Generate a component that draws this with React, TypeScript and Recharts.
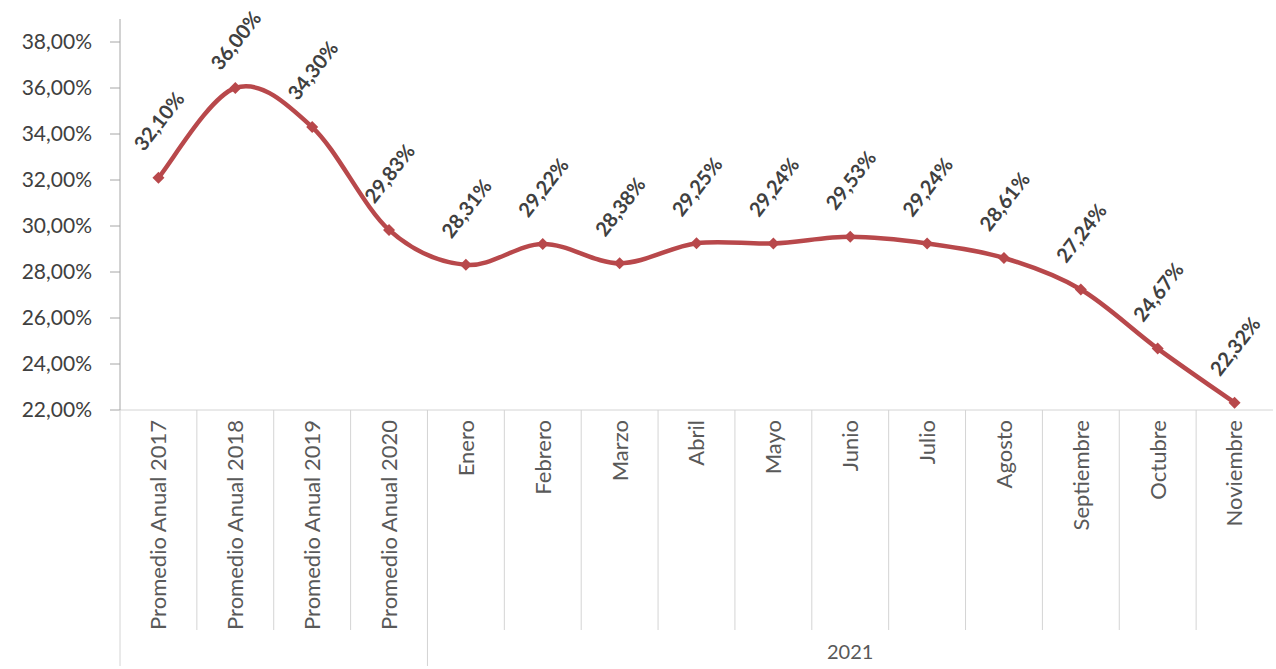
import { LineChart, Line, XAxis, YAxis, LabelList } from "recharts";

const categories = [
    "Promedio Anual 2017",
    "Promedio Anual 2018",
    "Promedio Anual 2019",
    "Promedio Anual 2020",
    "Enero",
    "Febrero",
    "Marzo",
    "Abril",
    "Mayo",
    "Junio",
    "Julio",
    "Agosto",
    "Septiembre",
    "Octubre",
    "Noviembre",
];
const rates = [32.1, 36.0, 34.3, 29.83, 28.31, 29.22, 28.38, 29.25, 29.24, 29.53, 29.24, 28.61, 27.24, 24.67, 22.32];
const yTicks = [22, 24, 26, 28, 30, 32, 34, 36, 38];
// second level of the category axis: first index and count of each group
const groups = [
    { label: "", start: 0, count: 4 },
    { label: "2021", start: 4, count: 11 },
];

const LINE_COLOR = "#B8484B";
const FONT = "Lato, 'Open Sans', sans-serif";
const CHART_W = 1276;
const CHART_H = 669;
const Y_AXIS_W = 120;
const RIGHT = 3;
const BAND = (CHART_W - Y_AXIS_W - RIGHT) / categories.length;

const data = categories.map((name, i) => ({ name, value: rates[i] }));

const pct = (v: number) => v.toFixed(2).replace(".", ",") + "%";

// Excel-like smoothing (Catmull-Rom as cubic beziers)
function smoothCurve(context: any) {
    let pts: number[][] = [];
    return {
        areaStart() {},
        areaEnd() {},
        lineStart() {
            pts = [];
        },
        point(x: number, y: number) {
            pts.push([+x, +y]);
        },
        lineEnd() {
            if (!pts.length) return;
            context.moveTo(pts[0][0], pts[0][1]);
            for (let i = 0; i < pts.length - 1; i++) {
                const p0 = pts[i - 1] || pts[i];
                const p1 = pts[i];
                const p2 = pts[i + 1];
                const p3 = pts[i + 2] || p2;
                context.bezierCurveTo(
                    p1[0] + (p2[0] - p0[0]) / 6,
                    p1[1] + (p2[1] - p0[1]) / 6,
                    p2[0] - (p3[0] - p1[0]) / 6,
                    p2[1] - (p3[1] - p1[1]) / 6,
                    p2[0],
                    p2[1]
                );
            }
        },
    };
}

const Diamond = (props: any) => {
    const { cx, cy, index } = props;
    if (cx == null || cy == null) return <g key={index} />;
    return (
        <path
            key={index}
            d={`M${cx},${cy - 6} L${cx + 6},${cy} L${cx},${cy + 6} L${cx - 6},${cy} Z`}
            fill={LINE_COLOR}
        />
    );
};

const ValueLabel = (props: any) => {
    const { x, y, value } = props;
    if (x == null || y == null) return null;
    const cy = Math.max(y - 57, 40);
    return (
        <text
            x={x}
            y={cy}
            transform={`rotate(-52, ${x}, ${cy})`}
            textAnchor="middle"
            dominantBaseline="central"
            fontFamily={FONT}
            fontWeight={700}
            fontSize={20}
            fill="#404040"
        >
            {pct(value)}
        </text>
    );
};

const CategoryTick = (props: any) => {
    const { x, y, payload, index } = props;
    const left = x - BAND / 2;
    const group = groups.find((g) => g.start === index);
    return (
        <g>
            <line
                x1={left}
                x2={left}
                y1={y}
                y2={group ? y + 256 : y + 220}
                stroke="#d4d4d4"
                strokeWidth={1}
            />
            <text
                x={x}
                y={y + 10}
                transform={`rotate(-90, ${x}, ${y + 10})`}
                textAnchor="end"
                dy="0.36em"
                fontFamily={FONT}
                fontSize={22}
                fill="#595959"
            >
                {payload.value}
            </text>
            {group && group.label && (
                <text
                    x={left + (group.count * BAND) / 2}
                    y={y + 242}
                    textAnchor="middle"
                    dy="0.36em"
                    fontFamily={FONT}
                    fontSize={20}
                    fill="#595959"
                >
                    {group.label}
                </text>
            )}
        </g>
    );
};

export default function App() {
    return (
        <div style={{ position: "absolute", left: 0, top: 0, width: CHART_W, height: CHART_H, background: "#fff" }}>
            <LineChart width={CHART_W} height={CHART_H} data={data} margin={{ top: 19, right: RIGHT, left: 0, bottom: 0 }}>
                <XAxis
                    dataKey="name"
                    scale="band"
                    interval={0}
                    height={259}
                    tickSize={0}
                    tickMargin={0}
                    tickLine={false}
                    axisLine={{ stroke: "#d4d4d4", strokeWidth: 1 }}
                    tick={<CategoryTick />}
                />
                <YAxis
                    width={Y_AXIS_W}
                    domain={[22, 39]}
                    ticks={yTicks}
                    tickFormatter={pct}
                    tickSize={10}
                    tickMargin={18}
                    axisLine={{ stroke: "#a6a6a6", strokeWidth: 1 }}
                    tickLine={{ stroke: "#a6a6a6", strokeWidth: 1 }}
                    tick={{ fontFamily: FONT, fontSize: 21, fill: "#404040" }}
                />
                <Line
                    type={smoothCurve as any}
                    dataKey="value"
                    stroke={LINE_COLOR}
                    strokeWidth={4.5}
                    dot={<Diamond />}
                    activeDot={false}
                    isAnimationActive={false}
                >
                    <LabelList dataKey="value" content={<ValueLabel />} />
                </Line>
            </LineChart>
        </div>
    );
}
